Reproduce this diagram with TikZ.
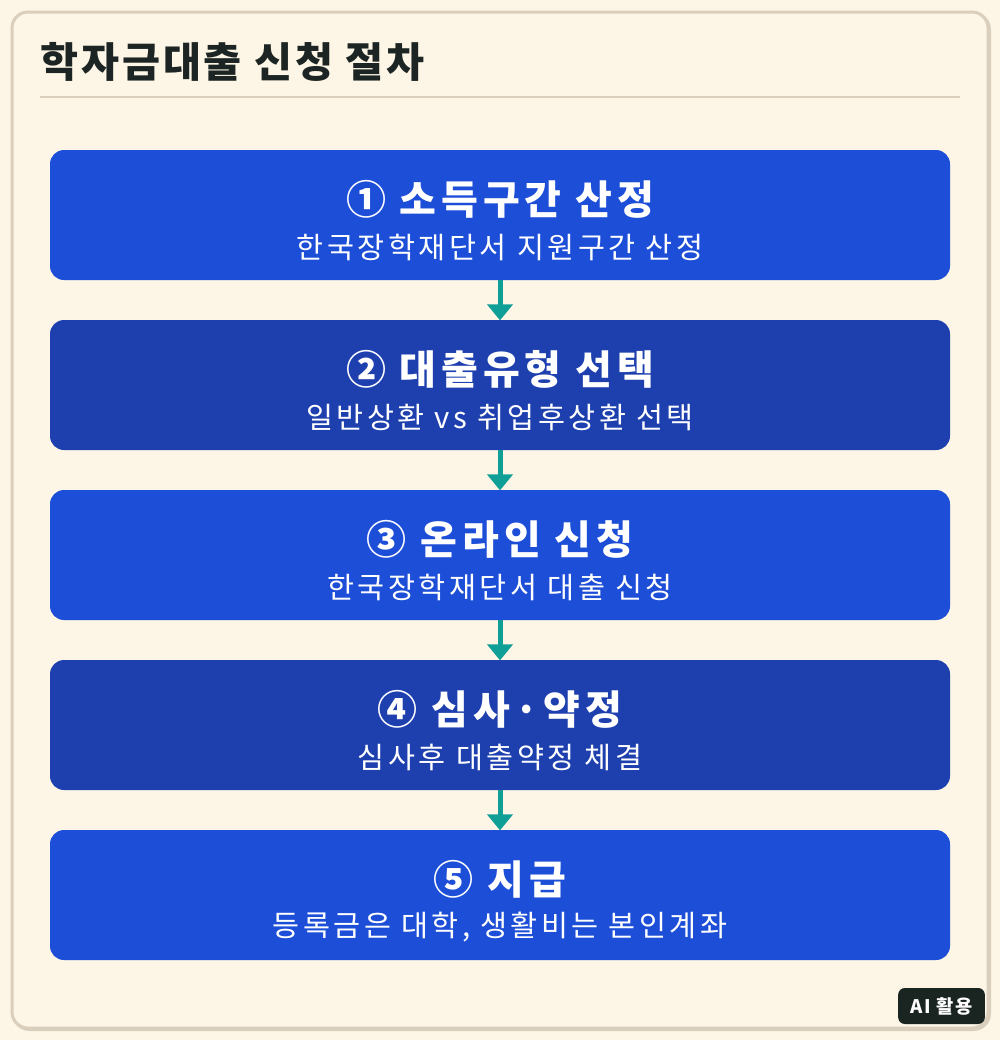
\documentclass[tikz,border=0pt]{standalone}
\usepackage{fontspec}
\setmainfont{Noto Sans CJK KR}
\newfontfamily\ttlfont{Noto Sans CJK KR}[LetterSpace=7]
\newfontfamily\boxfont{Noto Sans CJK KR}[LetterSpace=12]
\newfontfamily\subfont{Noto Sans CJK KR}[LetterSpace=12]
\newfontfamily\badgefont{Noto Sans CJK KR}[LetterSpace=8]
\usetikzlibrary{arrows.meta}
\definecolor{bg}{HTML}{FDF6E6}
\definecolor{frame}{HTML}{D9CFBC}
\definecolor{ink}{HTML}{1C2523}
\definecolor{blueA}{HTML}{1D4ED8}
\definecolor{blueB}{HTML}{1E40AF}
\definecolor{teal}{HTML}{0F9F97}
\definecolor{badge}{HTML}{1A2421}
\tikzset{
  stepbox/.style={rounded corners=10.5pt, minimum width=675pt, minimum height=97.5pt, inner sep=0pt},
  ttl/.style={text=white, font=\boxfont\fontsize{30}{32}\selectfont\bfseries, inner sep=0pt, anchor=center},
  sub/.style={text=white, font=\subfont\fontsize{22}{24}\selectfont, inner sep=0pt, anchor=center},
  flow/.style={teal, line width=3.75pt, -{Triangle[width=18.75pt,length=12pt]}, shorten >=-0.5pt}
}
\begin{document}
\begin{tikzpicture}[x=0.75pt,y=-0.75pt]
\useasboundingbox (0,0) rectangle (1000,1040);
\fill[bg] (0,0) rectangle (1000,1040);
\draw[frame, line width=2.25pt, rounded corners=12pt] (13.5,13.5) rectangle (989.5,1029.5);
\draw[frame, line width=2.25pt, fill=bg, rounded corners=12pt] (12,12) rectangle (988,1028);
\node[anchor=base west, text=ink, font=\ttlfont\fontsize{31}{34}\selectfont\bfseries, inner sep=0pt] (title) at (40,77) {학자금대출 신청 절차};
\draw[frame, line width=1.5pt] (40,97) -- (960,97);

\node[stepbox, fill=blueA] (b1) at (500,215) {};
\node[stepbox, fill=blueB] (b2) at (500,385) {};
\node[stepbox, fill=blueA] (b3) at (500,555) {};
\node[stepbox, fill=blueB] (b4) at (500,725) {};
\node[stepbox, fill=blueA] (b5) at (500,895) {};

\node[ttl] (t1) at (500,199) {① 소득구간 산정};
\node[sub] (s1) at (500,247) {한국장학재단서 지원구간 산정};
\node[ttl] (t2) at (500,369) {② 대출유형 선택};
\node[sub] (s2) at (500,417) {일반상환 vs 취업후상환 선택};
\node[ttl] (t3) at (500,539) {③ 온라인 신청};
\node[sub] (s3) at (500,587) {한국장학재단서 대출 신청};
\node[ttl] (t4) at (500,709) {④ 심사·약정};
\node[sub] (s4) at (500,757) {심사후 대출약정 체결};
\node[ttl] (t5) at (500,879) {⑤ 지급};
\node[sub] (s5) at (500,927) {등록금은 대학, 생활비는 본인계좌};

\draw[flow] (b1.south) -- (b2.north);
\draw[flow] (b2.south) -- (b3.north);
\draw[flow] (b3.south) -- (b4.north);
\draw[flow] (b4.south) -- (b5.north);

\node[fill=badge, rounded corners=5pt, minimum width=65pt, minimum height=27pt, inner sep=0pt, text=white, font=\badgefont\fontsize{14}{15}\selectfont\bfseries] (ai) at (941.5,1006) {AI 활용};
\end{tikzpicture}
\end{document}
